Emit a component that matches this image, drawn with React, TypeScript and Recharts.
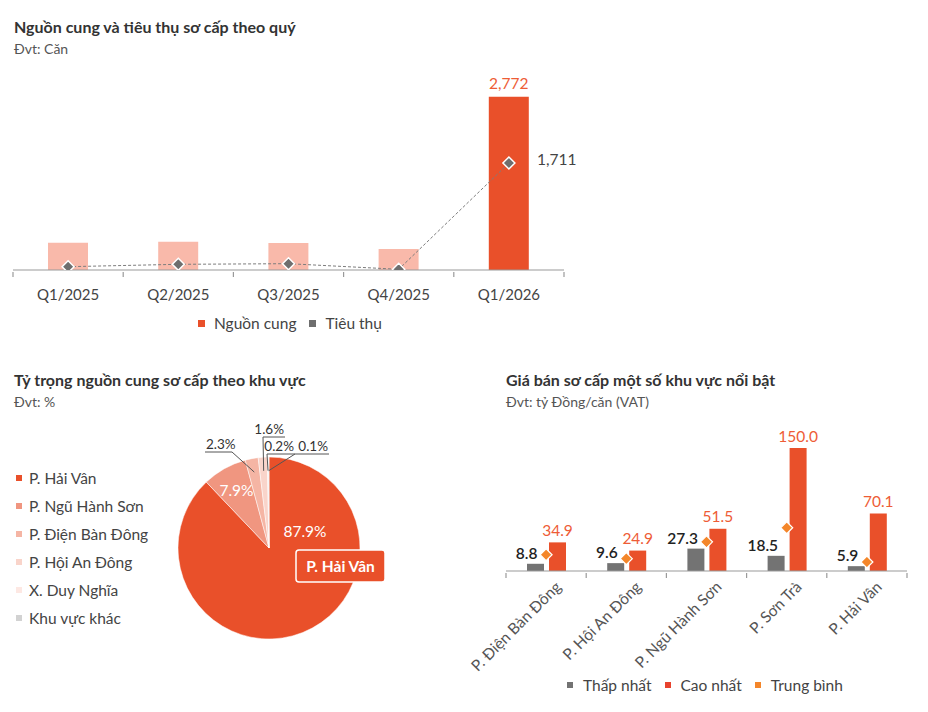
import React from 'react';
import { ComposedChart, Bar, Line, XAxis, YAxis, Cell, LabelList, PieChart, Pie } from 'recharts';

const FONT = "Lato, 'Noto Sans', sans-serif";
const ORANGE = '#e9502a';
const ORANGE_TEXT = '#ee5c36';
const LIGHT_BAR = '#f9b9aa';
const GREY = '#6e6e6e';
const AXIS = '#9a9a9a';
const TEXT = '#444';

// Nguồn cung & tiêu thụ theo quý (căn)
const quarters = ['Q1/2025', 'Q2/2025', 'Q3/2025', 'Q4/2025', 'Q1/2026'];
const supply = [435, 452, 432, 336, 2772];
const absorption = [53, 91, 101, 11, 1711];

// Tỷ trọng nguồn cung theo khu vực (%)
const areas = ['P. Hải Vân', 'P. Ngũ Hành Sơn', 'P. Điện Bàn Đông', 'P. Hội An Đông', 'X. Duy Nghĩa', 'Khu vực khác'];
const areaShares = [87.9, 7.9, 2.3, 1.6, 0.2, 0.1];
const areaColors = ['#e9502a', '#f09680', '#f5b5a4', '#f9d4ca', '#fde8e3', '#d2d2d2'];

// Giá bán sơ cấp (tỷ đồng/căn)
const priceAreas = ['P. Điện Bàn Đông', 'P. Hội An Đông', 'P. Ngũ Hành Sơn', 'P. Sơn Trà', 'P. Hải Vân'];
const priceMin = [8.8, 9.6, 27.3, 18.5, 5.9];
const priceMax = [34.9, 24.9, 51.5, 150.0, 70.1];
const priceAvg = [19.8, 15.0, 35.6, 52.7, 11.0];

const quarterData = quarters.map((q, i) => ({ quarter: q, supply: supply[i], absorption: absorption[i] }));
const pieData = areas.map((name, i) => ({ name, value: areaShares[i] }));
const priceData = priceAreas.map((area, i) => ({ area, min: priceMin[i], max: priceMax[i], avg: priceAvg[i] }));

const Q_W = 600;
const Q_H = 340;
const Q_MARGIN = { top: 70, right: 36, bottom: 40, left: 13 };
const P_W = 480;
const P_H = 352;
const P_MARGIN = { top: 47, right: 13, bottom: 41, left: 66 };

const diamondPath = (cx: number, cy: number, s: number) =>
  `M${cx},${cy - s}L${cx + s},${cy}L${cx},${cy + s}L${cx - s},${cy}Z`;

const Title = ({ x, y, text, sub }: { x: number; y: number; text: string; sub: string }) => (
  <>
    <div style={{ position: 'absolute', left: x, top: y, fontSize: 16, fontWeight: 700, color: '#333', lineHeight: '18px', whiteSpace: 'nowrap' }}>
      {text}
    </div>
    <div style={{ position: 'absolute', left: x, top: y + 23, fontSize: 14, color: '#555', lineHeight: '16px', whiteSpace: 'nowrap' }}>
      {sub}
    </div>
  </>
);

type LegendItem = { label: string; color: string };

const LegendRow = ({ items, left, top, size, gap, vertical, step }: {
  items: LegendItem[]; left: number; top: number; size: number; gap: number; vertical?: boolean; step?: number;
}) => (
  <div style={{ position: 'absolute', left, top, display: 'flex', flexDirection: vertical ? 'column' : 'row' }}>
    {items.map((it) => (
      <div key={it.label} style={{ display: 'flex', alignItems: 'center', height: vertical ? step : 20, marginRight: vertical ? 0 : 13 }}>
        <span style={{ width: size, height: size, background: it.color, marginRight: gap, display: 'inline-block' }} />
        <span style={{ fontSize: 15.5, color: TEXT, whiteSpace: 'nowrap' }}>{it.label}</span>
      </div>
    ))}
  </div>
);

// trục x có vạch chia ở ranh giới giữa các nhóm
const makeBoundaryTick = (count: number, band: number, render: (x: number, y: number, v: string) => React.ReactNode) =>
  (props: any) => {
    const { x, y, payload, index } = props;
    const half = band / 2;
    return (
      <g>
        <line x1={x - half} x2={x - half} y1={y} y2={y + 5} stroke={AXIS} strokeWidth={1.2} />
        {index === count - 1 && <line x1={x + half} x2={x + half} y1={y} y2={y + 5} stroke={AXIS} strokeWidth={1.2} />}
        {render(x, y, payload.value)}
      </g>
    );
  };

const QuarterTick = makeBoundaryTick(
  quarters.length,
  (Q_W - Q_MARGIN.left - Q_MARGIN.right) / quarters.length,
  (x, y, v) => (
    <text x={x} y={y + 22} textAnchor="middle" dominantBaseline="central" fontSize={15} fill={TEXT} fontFamily={FONT}>
      {v}
    </text>
  ),
);

const PriceTick = makeBoundaryTick(
  priceAreas.length,
  (P_W - P_MARGIN.left - P_MARGIN.right) / priceAreas.length,
  (x, y, v) => (
    <text x={x + 16} y={y + 15} transform={`rotate(-45 ${x + 16} ${y + 15})`} textAnchor="end" fontSize={15.5} fill="#555" fontFamily={FONT}>
      {v}
    </text>
  ),
);

const SupplyLabel = (p: any) => {
  if (p.index !== quarters.length - 1) return null;
  return (
    <text x={p.x + p.width / 2} y={p.y - 14} textAnchor="middle" dominantBaseline="central" fontSize={15.5} fill={ORANGE_TEXT} fontFamily={FONT}>
      {Number(p.value).toLocaleString('en-US')}
    </text>
  );
};

const AbsorptionLabel = (p: any) => {
  if (p.index !== quarters.length - 1) return null;
  return (
    <text x={p.x + 28} y={p.y - 4} dominantBaseline="central" fontSize={15.5} fill={TEXT} fontFamily={FONT}>
      {Number(p.value).toLocaleString('en-US')}
    </text>
  );
};

function QuarterChart() {
  return (
    <ComposedChart width={Q_W} height={Q_H} data={quarterData} margin={Q_MARGIN}>
      <XAxis dataKey="quarter" tickSize={0} tickLine={false} axisLine={{ stroke: AXIS, strokeWidth: 1.2 }} tick={QuarterTick} interval={0} />
      <YAxis hide domain={[0, 3200]} allowDataOverflow />
      <Bar dataKey="supply" name="Nguồn cung" barSize={40} fill={ORANGE} isAnimationActive={false}>
        {quarterData.map((_, i) => (
          <Cell key={i} fill={i === quarterData.length - 1 ? ORANGE : LIGHT_BAR} />
        ))}
        <LabelList dataKey="supply" content={SupplyLabel} />
      </Bar>
      <Line
        dataKey="absorption"
        name="Tiêu thụ"
        stroke="#7d7d7d"
        strokeWidth={1}
        strokeDasharray="3 2"
        activeDot={false}
        isAnimationActive={false}
        dot={(p: any) => <path key={p.index} d={diamondPath(p.cx, p.cy, 6)} fill={GREY} stroke="#fff" strokeWidth={1.5} />}
      >
        <LabelList dataKey="absorption" content={AbsorptionLabel} />
      </Line>
    </ComposedChart>
  );
}

// đường dẫn nhãn cho các lát nhỏ, tính từ tâm hình tròn
const callouts: Record<number, { elbow: [number, number]; end: [number, number] }> = {
  2: { elbow: [-37, -96], end: [-64, -96] },
  3: { elbow: [-6, -111], end: [16, -111] },
  4: { elbow: [-2, -94], end: [26, -94] },
  5: { elbow: [26, -94], end: [60, -94] },
};

const RAD = Math.PI / 180;

const renderPieLabel = (p: any) => {
  const { cx, cy, midAngle, outerRadius, index, value } = p;
  const text = `${value}%`;
  if (index === 0) {
    return (
      <g key="l0">
        <text x={cx + 36} y={cy - 17} textAnchor="middle" dominantBaseline="central" fontSize={15.5} fill="#fff" fontFamily={FONT}>
          {text}
        </text>
        <rect x={cx + 27} y={cy + 2} width={89} height={32} rx={3} fill={ORANGE} stroke="#fff" strokeWidth={1.5} />
        <text x={cx + 71.5} y={cy + 18} textAnchor="middle" dominantBaseline="central" fontSize={15.5} fontWeight={700} fill="#fff" fontFamily={FONT}>
          {areas[0]}
        </text>
      </g>
    );
  }
  if (index === 1) {
    const r = outerRadius * 0.73;
    return (
      <text key="l1" x={cx + r * Math.cos(-midAngle * RAD)} y={cy + r * Math.sin(-midAngle * RAD)} textAnchor="middle" dominantBaseline="central" fontSize={15.5} fill="#fff" fontFamily={FONT}>
        {text}
      </text>
    );
  }
  const c = callouts[index];
  const r0 = outerRadius * 0.85;
  const sx = cx + r0 * Math.cos(-midAngle * RAD);
  const sy = cy + r0 * Math.sin(-midAngle * RAD);
  const ex = cx + c.elbow[0];
  const ey = cy + c.elbow[1];
  const tx = cx + c.end[0];
  const leftward = c.end[0] < c.elbow[0];
  return (
    <g key={`l${index}`}>
      <polyline points={`${sx},${sy} ${ex},${ey} ${tx},${ey}`} fill="none" stroke="#555" strokeWidth={1} />
      <text x={leftward ? tx + 1 : tx - 1} y={ey - 8} textAnchor={leftward ? 'start' : 'end'} fontSize={13.5} fill="#333" fontFamily={FONT} dominantBaseline="central">
        {text}
      </text>
    </g>
  );
};

function ShareChart() {
  return (
    <PieChart width={480} height={350} margin={{ top: 0, right: 0, bottom: 0, left: 0 }}>
      <Pie
        data={pieData}
        dataKey="value"
        nameKey="name"
        cx={269}
        cy={188}
        outerRadius={91}
        startAngle={90}
        endAngle={-270}
        stroke="#fff"
        strokeWidth={0.5}
        label={renderPieLabel}
        labelLine={false}
        isAnimationActive={false}
      >
        {pieData.map((_, i) => (
          <Cell key={i} fill={areaColors[i]} />
        ))}
      </Pie>
    </PieChart>
  );
}

const MinLabel = (p: any) => (
  <text x={p.x + p.width / 2 + 2} y={p.y - 11} textAnchor="end" dominantBaseline="central" fontSize={15.5} fontWeight={600} fill="#222" fontFamily={FONT}>
    {Number(p.value).toFixed(1)}
  </text>
);

const MaxLabel = (p: any) => (
  <text x={p.x + p.width / 2} y={p.y - 12.5} textAnchor="middle" dominantBaseline="central" fontSize={15.5} fill={ORANGE_TEXT} fontFamily={FONT}>
    {Number(p.value).toFixed(1)}
  </text>
);

function PriceChart() {
  return (
    <ComposedChart width={P_W} height={P_H} data={priceData} margin={P_MARGIN} barGap={5}>
      <XAxis dataKey="area" height={100} interval={0} tickSize={0} tickLine={false} axisLine={{ stroke: AXIS, strokeWidth: 1.2 }} tick={PriceTick} />
      <YAxis hide domain={[0, 200]} allowDataOverflow />
      <Bar dataKey="min" name="Thấp nhất" barSize={17} fill="#737373" isAnimationActive={false}>
        <LabelList dataKey="min" content={MinLabel} />
      </Bar>
      <Bar dataKey="max" name="Cao nhất" barSize={17} fill={ORANGE} isAnimationActive={false}>
        <LabelList dataKey="max" content={MaxLabel} />
      </Bar>
      <Line
        dataKey="avg"
        name="Trung bình"
        stroke="#f4862a"
        strokeOpacity={0}
        activeDot={false}
        isAnimationActive={false}
        dot={(p: any) => <path key={p.index} d={diamondPath(p.cx, p.cy, 6)} fill="#f4862a" stroke="#fff" strokeWidth={1.2} />}
      />
    </ComposedChart>
  );
}

export default function App() {
  return (
    <div style={{ position: 'absolute', left: 0, top: 0, width: 928, height: 712, background: '#fff', fontFamily: FONT, overflow: 'hidden' }}>
      <Title x={14} y={18} text="Nguồn cung và tiêu thụ sơ cấp theo quý" sub="Đvt: Căn" />
      <div style={{ position: 'absolute', left: 0, top: 0 }}>
        <QuarterChart />
      </div>
      <LegendRow
        items={[{ label: 'Nguồn cung', color: ORANGE }, { label: 'Tiêu thụ', color: GREY }]}
        left={198}
        top={313}
        size={7}
        gap={9}
      />

      <Title x={14} y={371} text="Tỷ trọng nguồn cung sơ cấp theo khu vực" sub="Đvt: %" />
      <div style={{ position: 'absolute', left: 0, top: 360 }}>
        <ShareChart />
      </div>
      <LegendRow
        items={areas.map((a, i) => ({ label: a, color: areaColors[i] }))}
        left={16}
        top={464}
        size={6}
        gap={7}
        vertical
        step={28}
      />

      <Title x={506} y={371} text="Giá bán sơ cấp một số khu vực nổi bật" sub="Đvt: tỷ Đồng/căn (VAT)" />
      <div style={{ position: 'absolute', left: 440, top: 360 }}>
        <PriceChart />
      </div>
      <LegendRow
        items={[
          { label: 'Thấp nhất', color: '#737373' },
          { label: 'Cao nhất', color: '#e8432e' },
          { label: 'Trung bình', color: '#f4862a' },
        ]}
        left={567}
        top={675}
        size={6}
        gap={10}
      />
    </div>
  );
}
